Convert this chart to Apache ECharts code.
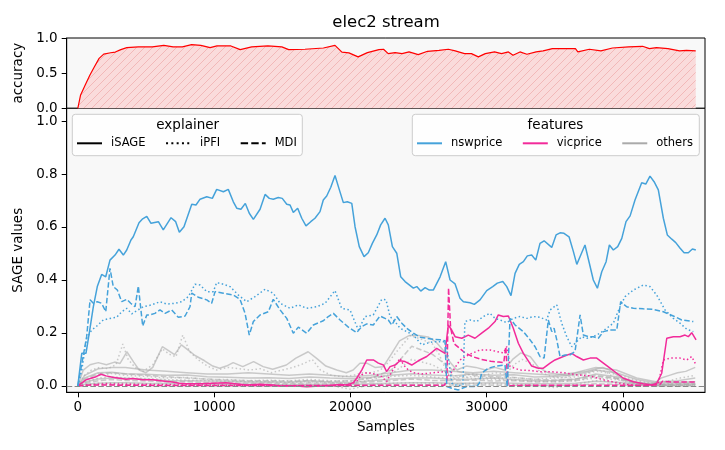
<!DOCTYPE html>
<html>
<head>
<meta charset="utf-8">
<script src="https://cdn.jsdelivr.net/npm/echarts@6/dist/echarts.min.js"></script>
<style>
  html, body { margin: 0; padding: 0; background: #fff; }
  #main { width: 725px; height: 450px; }
</style>
</head>
<body>
<div id="main"></div>
<script>
// accuracy of the stream model (top panel)
var accuracy = [[0,0],[205,0.19],[543,0.33],[880,0.47],[1218,0.59],[1563,0.71],[1900,0.77],[2407,0.79],[2751,0.80],[3155,0.835],[3595,0.863],[4446,0.873],[5466,0.873],[6310,0.896],[6992,0.873],[7667,0.873],[8350,0.906],[9024,0.896],[9707,0.863],[10213,0.887],[11233,0.887],[11915,0.835],[12759,0.873],[13947,0.887],[14967,0.873],[15473,0.835],[16662,0.84],[18020,0.858],[18871,0.896],[19377,0.80],[19891,0.788],[20566,0.731],[21248,0.792],[22092,0.835],[22429,0.84],[22774,0.778],[23280,0.792],[23787,0.778],[24300,0.802],[24975,0.764],[25657,0.811],[26501,0.825],[27183,0.84],[27690,0.816],[28372,0.778],[28878,0.778],[29385,0.731],[29898,0.778],[30573,0.802],[31087,0.778],[31593,0.802],[31930,0.755],[32437,0.802],[32950,0.769],[33625,0.802],[34139,0.816],[34814,0.849],[35665,0.849],[36509,0.849],[36685,0.802],[37529,0.84],[38380,0.816],[39224,0.858],[40412,0.873],[41432,0.882],[41938,0.849],[42452,0.863],[43296,0.849],[44147,0.816],[44653,0.825],[45335,0.816]];

// nswprice
var nswSage = [[0,0],[290,0.123],[600,0.123],[840,0.199],[1140,0.299],[1430,0.375],[1750,0.421],[2050,0.412],[2360,0.475],[2730,0.494],[3020,0.516],[3340,0.494],[3590,0.513],[3900,0.551],[4070,0.563],[4490,0.616],[4760,0.631],[5060,0.64],[5370,0.614],[5910,0.62],[6270,0.589],[6840,0.635],[7180,0.62],[7450,0.58],[7790,0.601],[8360,0.686],[8670,0.683],[8970,0.705],[9460,0.714],[9870,0.708],[10190,0.742],[10680,0.733],[11040,0.742],[11410,0.695],[11660,0.671],[11970,0.667],[12290,0.689],[12580,0.652],[12880,0.629],[13370,0.667],[13740,0.723],[14050,0.708],[14340,0.705],[14710,0.711],[15000,0.708],[15330,0.686],[15570,0.683],[15810,0.655],[16130,0.671],[16430,0.633],[16740,0.604],[17090,0.62],[17400,0.633],[17770,0.658],[18010,0.702],[18260,0.717],[18560,0.75],[18870,0.794],[19190,0.74],[19480,0.692],[19770,0.695],[20100,0.689],[20340,0.601],[20650,0.526],[21000,0.488],[21310,0.503],[21610,0.538],[21930,0.57],[22220,0.608],[22540,0.633],[22780,0.608],[23080,0.526],[23400,0.501],[23690,0.412],[24010,0.394],[24620,0.369],[24870,0.375],[25160,0.358],[25480,0.371],[25790,0.362],[26080,0.362],[26580,0.412],[26990,0.469],[27310,0.4],[27680,0.385],[28040,0.331],[28290,0.318],[28780,0.314],[29090,0.308],[29510,0.325],[30000,0.36],[30440,0.375],[30780,0.388],[31180,0.394],[31470,0.375],[31780,0.341],[32080,0.425],[32390,0.459],[32690,0.469],[32980,0.491],[33300,0.494],[33600,0.475],[33910,0.538],[34210,0.548],[34770,0.523],[35090,0.57],[35380,0.578],[35670,0.576],[36040,0.563],[36360,0.507],[36610,0.459],[36970,0.503],[37210,0.532],[37530,0.463],[37820,0.4],[38120,0.369],[38440,0.431],[38760,0.469],[39000,0.532],[39290,0.513],[39610,0.526],[39910,0.557],[40220,0.62],[40520,0.642],[40880,0.702],[41370,0.767],[41670,0.762],[41980,0.792],[42280,0.771],[42590,0.74],[42960,0.633],[43250,0.57],[43580,0.554],[43870,0.541],[44190,0.52],[44480,0.503],[44790,0.503],[45090,0.517],[45340,0.513]];
var nswPfi = [[0,0],[290,0.06],[650,0.18],[1020,0.211],[1390,0.226],[1870,0.249],[2360,0.255],[2850,0.259],[3220,0.28],[3590,0.293],[3960,0.272],[4320,0.284],[4810,0.299],[5420,0.306],[6030,0.318],[6520,0.309],[7130,0.312],[7620,0.318],[8110,0.337],[8600,0.384],[8970,0.381],[9460,0.356],[9940,0.356],[10190,0.39],[10680,0.384],[11170,0.375],[11780,0.343],[12390,0.318],[13000,0.337],[13740,0.365],[14340,0.35],[14840,0.312],[15570,0.293],[16180,0.306],[16790,0.293],[17530,0.299],[18140,0.312],[18870,0.36],[19360,0.293],[19970,0.287],[20580,0.211],[21070,0.262],[21680,0.268],[22300,0.327],[22610,0.325],[22910,0.262],[23270,0.243],[23640,0.218],[24130,0.205],[24620,0.192],[25230,0.155],[25600,0.161],[26080,0.167],[26940,0.167],[27200,0.1],[27450,0.01],[27900,0.0],[28250,0.005],[28400,0.243],[28780,0.249],[29270,0.243],[29750,0.262],[30240,0.274],[30610,0.255],[30980,0.249],[31470,0.239],[31950,0.255],[32440,0.262],[32940,0.255],[33420,0.262],[33910,0.259],[34400,0.249],[34650,0.287],[35140,0.306],[35500,0.237],[35870,0.186],[36240,0.148],[36600,0.167],[36970,0.186],[37340,0.18],[37820,0.186],[38310,0.199],[38810,0.218],[39290,0.237],[39780,0.299],[40150,0.337],[40760,0.362],[41490,0.381],[41980,0.375],[42470,0.343],[43080,0.287],[43690,0.255],[44180,0.237],[44680,0.214],[45160,0.205]];
var nswMdi = [[0,0],[650,0.186],[900,0.325],[1140,0.312],[1430,0.318],[1750,0.312],[2050,0.28],[2360,0.444],[2600,0.375],[2900,0.362],[3220,0.318],[3590,0.327],[3880,0.312],[4200,0.299],[4440,0.377],[4760,0.226],[5060,0.268],[5300,0.268],[5660,0.274],[6030,0.287],[6400,0.274],[6890,0.287],[7370,0.259],[7870,0.264],[8230,0.299],[8360,0.35],[8840,0.335],[9460,0.325],[9820,0.312],[10070,0.356],[10680,0.35],[11410,0.343],[11900,0.327],[12270,0.274],[12580,0.192],[12880,0.243],[13370,0.268],[13980,0.28],[14340,0.327],[14840,0.287],[15330,0.255],[15810,0.199],[16180,0.222],[16790,0.199],[17280,0.23],[18010,0.246],[18380,0.262],[18750,0.274],[19240,0.249],[19850,0.222],[20460,0.201],[20830,0.224],[21200,0.234],[21680,0.23],[22170,0.264],[22780,0.249],[23030,0.23],[23400,0.262],[23770,0.237],[24130,0.218],[24620,0.199],[25110,0.184],[25600,0.18],[26080,0.176],[26580,0.174],[26940,0.171],[27070,-0.002],[27430,-0.009],[27920,-0.015],[28530,-0.002],[29270,-0.002],[29450,0.01],[29630,0.048],[30120,0.067],[30680,0.075],[31340,0.079],[31510,-0.003],[31710,0.255],[32080,0.23],[32690,0.205],[33180,0.174],[33550,0.148],[33910,0.111],[34210,0.105],[34520,0.249],[34770,0.205],[34940,0.218],[35140,0.174],[35380,0.111],[35750,0.117],[36110,0.117],[36480,0.13],[36850,0.268],[37090,0.192],[37460,0.186],[37820,0.186],[38190,0.18],[38560,0.205],[39050,0.211],[39540,0.211],[39830,0.318],[40270,0.299],[40760,0.293],[41490,0.291],[42230,0.289],[42960,0.28],[43690,0.264],[44310,0.249],[45160,0.243]];

// vicprice
var vicSage = [[0,0],[600,0.023],[970,0.029],[1340,0.035],[1700,0.044],[2070,0.038],[2560,0.033],[3050,0.029],[3540,0.025],[4030,0.028],[4760,0.023],[5500,0.023],[6230,0.019],[6960,0.015],[7450,0.01],[7940,0.008],[8920,0.008],[9900,0.01],[10870,0.012],[12390,0.004],[13370,0.006],[14340,0.004],[14840,0],[15810,0.001],[16790,-0.003],[17770,0],[18260,0.001],[19240,0.005],[19730,0.004],[20210,0.012],[20460,0.029],[20830,0.06],[21200,0.098],[21680,0.098],[22050,0.086],[22420,0.079],[22660,0.054],[22910,0.073],[23270,0.079],[23640,0.095],[24010,0.092],[24500,0.079],[24980,0.095],[25600,0.111],[26330,0.142],[26940,0.123],[27180,0.23],[27430,0.211],[27680,0.186],[28170,0.18],[28650,0.192],[29140,0.18],[29630,0.199],[30120,0.218],[30610,0.243],[30850,0.268],[31220,0.262],[31590,0.264],[31950,0.218],[32320,0.161],[32690,0.123],[33300,0.075],[33790,0.067],[34160,0.067],[34650,0.086],[35010,0.098],[35620,0.111],[36240,0.123],[36600,0.111],[37090,0.098],[37580,0.105],[38070,0.105],[38560,0.086],[39050,0.067],[39540,0.048],[40030,0.029],[40760,0.016],[41490,0.008],[42110,0.004],[42470,0.01],[42840,0.048],[43210,0.18],[43690,0.186],[44180,0.186],[44550,0.192],[44790,0.186],[45040,0.201],[45360,0.174]];
var vicPfi = [[0,0],[1000,0.005],[2000,0.008],[4000,0.006],[7000,0.004],[10000,0.003],[13000,0.002],[16000,0.001],[19000,0.002],[20000,0.004],[20500,0.02],[20830,0.042],[21200,0.05],[21800,0.045],[22300,0.035],[22660,0.016],[22900,0.042],[23280,0.073],[23640,0.105],[23890,0.08],[24250,0.06],[24620,0.05],[25230,0.045],[26080,0.05],[26940,0.054],[27200,0.04],[27560,0.06],[28040,0.098],[28650,0.117],[29510,0.136],[30240,0.136],[30730,0.13],[31220,0.125],[31470,0.148],[31710,0.073],[32440,0.06],[33180,0.058],[33910,0.054],[34650,0.054],[35620,0.05],[36610,0.042],[37580,0.038],[38560,0.023],[39540,0.012],[40520,0.004],[41490,0.0],[42230,0.002],[42600,0.01],[42960,0.098],[43450,0.105],[44180,0.105],[44670,0.098],[45040,0.111],[45360,0.079]];
var vicMdi = [[0,0],[1000,0.004],[3000,0.003],[6000,0.002],[10000,0.002],[15000,0.001],[20000,0.002],[24000,0.003],[26900,0.003],[27080,0.02],[27200,0.37],[27350,0.22],[27600,0.16],[28400,0.125],[29000,0.11],[29600,0.1],[30300,0.093],[30900,0.09],[31250,0.088],[31400,0.148],[31560,0.0],[32000,0.002],[35000,0.003],[38000,0.003],[42000,0.002],[42700,0.005],[42900,0.018],[43500,0.015],[44500,0.015],[45300,0.015]];

// other features (grey)
var otherA = [[0,0],[400,0.06],[900,0.08],[1500,0.088],[2100,0.08],[2700,0.09],[3100,0.085],[3600,0.129],[4100,0.09],[4500,0.06],[5000,0.05],[5500,0.07],[6200,0.148],[6600,0.135],[7100,0.118],[7600,0.155],[8100,0.135],[8600,0.115],[9300,0.095],[9900,0.075],[10400,0.067],[10900,0.075],[11400,0.088],[12100,0.073],[12900,0.092],[13600,0.073],[14300,0.063],[15300,0.079],[16000,0.105],[16900,0.129],[17500,0.105],[18200,0.075],[19000,0.06],[19700,0.05],[20200,0.06],[20700,0.086],[21200,0.086],[21800,0.07],[22400,0.072],[23000,0.12],[23600,0.17],[24300,0.19],[25000,0.19],[25700,0.185],[26300,0.165],[26800,0.135],[27300,0.09],[27800,0.06],[28500,0.075],[29200,0.07],[29900,0.06],[30600,0.07],[31300,0.06],[31900,0.1],[32500,0.125],[33200,0.11],[33800,0.07],[34500,0.05],[35200,0.045],[35900,0.04],[36600,0.05],[37300,0.055],[38000,0.065],[38500,0.07],[39000,0.06],[39600,0.04],[40300,0.02],[41000,0.01],[41700,0.005],[42300,0.01],[42800,0.03],[43400,0.04],[44000,0.05],[44600,0.055],[45300,0.07]];
var otherAPfi = [[0,0],[500,0.04],[1000,0.06],[1600,0.07],[2200,0.065],[2800,0.08],[3300,0.158],[3700,0.1],[4200,0.07],[4800,0.055],[5500,0.08],[6200,0.14],[6700,0.12],[7200,0.11],[7700,0.192],[8200,0.13],[8800,0.1],[9500,0.075],[10200,0.06],[11000,0.07],[11800,0.065],[12600,0.06],[13400,0.065],[14200,0.05],[15000,0.06],[15800,0.07],[16600,0.085],[17200,0.1],[17800,0.06],[18600,0.04],[19400,0.035],[20200,0.04],[20900,0.05],[21600,0.05],[22200,0.06],[22800,0.09],[23400,0.13],[23900,0.16],[24400,0.19],[25000,0.18],[25500,0.17],[26000,0.16],[26500,0.12],[27000,0.06],[27600,0.03],[28300,0.04],[29000,0.045],[29800,0.04],[30600,0.05],[31400,0.045],[32000,0.08],[32600,0.1],[33300,0.085],[34000,0.05],[34800,0.035],[35600,0.03],[36400,0.04],[37200,0.045],[38000,0.06],[38700,0.055],[39400,0.03],[40200,0.015],[41000,0.008],[41800,0.005],[42600,0.01],[43400,0.02],[44200,0.03],[45300,0.04]];

var greyX = [0,500,1500,2500,3500,5000,6500,8000,9500,11000,12500,14000,15500,17000,18500,20000,21500,23000,24500,26000,27500,29000,30500,32000,33500,35000,36500,38000,39500,41000,42500,44000,45300];
var otherB = [0,0.04,0.065,0.07,0.07,0.06,0.055,0.05,0.045,0.045,0.05,0.045,0.04,0.045,0.04,0.035,0.04,0.05,0.06,0.06,0.055,0.05,0.055,0.05,0.045,0.04,0.05,0.07,0.06,0.03,0.015,0.02,0.03];
var otherC = [0,0.03,0.05,0.052,0.046,0.044,0.04,0.041,0.035,0.033,0.03,0.031,0.028,0.034,0.03,0.027,0.033,0.04,0.046,0.041,0.038,0.045,0.04,0.042,0.034,0.036,0.042,0.06,0.05,0.024,0.01,0.014,0.016];
var otherCPfi = [0,0.02,0.04,0.047,0.04,0.036,0.03,0.032,0.025,0.024,0.02,0.022,0.019,0.025,0.02,0.018,0.03,0.036,0.04,0.034,0.028,0.036,0.03,0.031,0.025,0.03,0.034,0.056,0.044,0.02,0.006,0.01,0.012];
var otherD = [0,0.015,0.026,0.03,0.029,0.025,0.021,0.02,0.019,0.018,0.015,0.016,0.014,0.02,0.015,0.013,0.02,0.026,0.03,0.03,0.025,0.026,0.03,0.024,0.02,0.021,0.025,0.045,0.035,0.015,0.005,0.008,0.009];
var otherDMdi = [0,0.01,0.02,0.024,0.021,0.019,0.015,0.016,0.012,0.011,0.01,0.011,0.009,0.012,0.01,0.008,0.015,0.02,0.026,0.021,0.02,0.022,0.019,0.02,0.015,0.016,0.02,0.036,0.028,0.01,0.004,0.006,0.007];
var otherEPfi = [0,0.005,0.01,0.012,0.01,0.008,0.008,0.006,0.005,0.005,0.004,0.004,0.003,0.004,0.002,-0.012,0.005,0.01,0.012,0.01,0.008,0.01,0.008,0.006,0.004,-0.006,0.006,0.02,0.015,0.005,0.002,0.003,0.003];
var otherAMdi = [0,0.025,0.045,0.05,0.045,0.04,0.035,0.03,0.026,0.022,0.02,0.02,0.018,0.02,0.017,0.02,0.03,0.06,0.15,0.12,0.06,0.04,0.035,0.032,0.025,0.022,0.026,0.04,0.03,0.012,0.004,0.005,0.006];
var otherE = [0,0.006,0.01,0.012,0.012,0.01,0.009,0.008,0.007,0.006,0.006,0.005,0.005,0.006,0.005,0.005,0.008,0.01,0.012,0.012,0.01,0.01,0.012,0.01,0.008,0.008,0.01,0.018,0.014,0.006,0.002,0.003,0.004];
var otherBPfi = [0,0.012,0.03,0.035,0.03,0.028,0.024,0.022,0.02,0.017,0.016,0.015,0.013,0.015,0.012,0.01,0.022,0.045,0.1,0.08,0.04,0.028,0.025,0.022,0.018,0.016,0.02,0.03,0.024,0.008,0.003,0.004,0.005];
var otherEMdi = [0,0.002,0.004,0.005,0.004,0.003,0.003,0.003,0.002,0.002,0.002,0.002,0.001,0.002,0.001,0.001,0.003,0.004,0.005,0.004,0.004,0.004,0.003,0.003,0.002,0.002,0.003,0.008,0.006,0.002,0.001,0.001,0.001];

var sageTicks = [0, 0.2, 0.4, 0.6, 0.8, 1.0];
var accTicks = [0, 0.5, 1.0];
var sampleTicks = [0, 10000, 20000, 30000, 40000];

var FONT = 'DejaVu Sans';
var BLUE = '#45a2da', PINK = '#f22a9a', GREY = '#aaaaaa';
var SOLID = 'solid', DOT = [1.5, 2.5], DASH = [5.5, 2.4];

function zip(xs, ys) {
    return xs.map(function (x, i) { return [x, ys[i]]; });
}

function sageLine(name, data, color, type, opacity) {
    return {
        name: name, type: 'line', xAxisIndex: 1, yAxisIndex: 1,
        data: data, symbol: 'none', silent: true,
        lineStyle: { color: color, width: 1.5, type: type, opacity: opacity || 1 },
        itemStyle: { color: color }
    };
}

function legendLine(name, color, type) {
    return {
        name: name, type: 'line', xAxisIndex: 1, yAxisIndex: 1, data: [], symbol: 'none',
        lineStyle: { color: color, width: 2, type: type === DOT ? [2, 3.3] : (type === DASH ? [7.4, 3.2] : type) },
        itemStyle: { color: color }
    };
}

// diagonal hatch for the accuracy fill
function hatch() {
    var c = document.createElement('canvas');
    c.width = 8; c.height = 8;
    var g = c.getContext('2d');
    g.fillStyle = 'rgb(250,219,219)';
    g.fillRect(0, 0, 8, 8);
    g.strokeStyle = 'rgb(242,184,184)';
    g.lineWidth = 1;
    g.beginPath();
    g.moveTo(-1, 9); g.lineTo(9, -1);
    g.moveTo(-5, 5); g.lineTo(5, -5);
    g.moveTo(3, 13); g.lineTo(13, 3);
    g.stroke();
    return c;
}

var nameStyle = { color: '#000', fontSize: 13.5, fontFamily: FONT };

var series = [
    sageLine('others', zip(greyX, otherEMdi), GREY, DASH, 0.6),
    sageLine('others', zip(greyX, otherE), GREY, SOLID, 0.6),
    sageLine('others', zip(greyX, otherEPfi), GREY, DOT, 0.6),
    sageLine('others', zip(greyX, otherD), GREY, SOLID, 0.6),
    sageLine('others', zip(greyX, otherDMdi), GREY, DASH, 0.6),
    sageLine('others', zip(greyX, otherC), GREY, SOLID, 0.6),
    sageLine('others', zip(greyX, otherCPfi), GREY, DOT, 0.6),
    sageLine('others', zip(greyX, otherB), GREY, SOLID, 0.6),
    sageLine('others', zip(greyX, otherBPfi), GREY, DOT, 0.6),
    sageLine('others', zip(greyX, otherAMdi), GREY, DASH, 0.6),
    sageLine('others', otherAPfi, GREY, DOT, 0.6),
    sageLine('others', otherA, GREY, SOLID, 0.6),
    sageLine('vicprice', vicMdi, PINK, DASH),
    sageLine('vicprice', vicPfi, PINK, DOT),
    sageLine('vicprice', vicSage, PINK, SOLID),
    sageLine('nswprice', nswMdi, BLUE, DASH),
    sageLine('nswprice', nswPfi, BLUE, DOT),
    sageLine('nswprice', nswSage, BLUE, SOLID),
    {
        name: 'accuracy', type: 'line', xAxisIndex: 0, yAxisIndex: 0,
        data: accuracy, symbol: 'none', silent: true,
        lineStyle: { color: '#ff0000', width: 1.2 },
        areaStyle: { color: { image: hatch(), repeat: 'repeat' }, opacity: 1 }
    },
    {
        name: 'zero', type: 'line', xAxisIndex: 1, yAxisIndex: 1, data: [], symbol: 'none',
        markLine: {
            silent: true, symbol: 'none', label: { show: false },
            lineStyle: { color: '#888888', type: DASH, width: 1.2 },
            data: [{ yAxis: 0 }]
        }
    },
    legendLine('iSAGE', '#000', SOLID),
    legendLine('iPFI', '#000', DOT),
    legendLine('MDI', '#000', DASH),
    legendLine('nswprice', BLUE, SOLID),
    legendLine('vicprice', PINK, SOLID),
    legendLine('others', GREY, SOLID)
];
// names on data lines only matter for legend matching; keep them apart
series.forEach(function (s, i) { if (i < 18) s.name = s.name + ' ' + i; });

var legendText = { color: '#000', fontSize: 11.5, fontFamily: FONT, padding: [0, 0, 0, 4] };

var myChart = echarts.init(document.getElementById('main'), null, { renderer: 'canvas' });
var option = {
    animation: false,
    backgroundColor: '#ffffff',
    title: [
        { text: 'elec2 stream', left: 386, top: 14, textAlign: 'center', padding: 0,
          textStyle: { fontSize: 16.5, fontWeight: 'normal', fontFamily: FONT, color: '#000' } },
        { text: 'explainer', left: 187.7, top: 118, textAlign: 'center', padding: 0, z: 8,
          textStyle: { fontSize: 13.5, fontWeight: 'normal', fontFamily: FONT, color: '#000' } },
        { text: 'features', left: 555.5, top: 118, textAlign: 'center', padding: 0, z: 8,
          textStyle: { fontSize: 13.5, fontWeight: 'normal', fontFamily: FONT, color: '#000' } }
    ],
    graphic: [
        { type: 'rect', z: 6, shape: { x: 72.3, y: 114.3, width: 230, height: 41.4, r: 3 },
          style: { fill: 'rgba(255,255,255,0.8)', stroke: '#cccccc', lineWidth: 1 } },
        { type: 'rect', z: 6, shape: { x: 412.3, y: 114.3, width: 287, height: 41.4, r: 3 },
          style: { fill: 'rgba(255,255,255,0.8)', stroke: '#cccccc', lineWidth: 1 } }
    ],
    legend: [
        { data: ['iSAGE', 'iPFI', 'MDI'], left: 76, top: 137.3, padding: 0, z: 8,
          itemWidth: 25, itemHeight: 12, itemGap: 19.5, selectedMode: false,
          itemStyle: { opacity: 0 }, textStyle: legendText },
        { data: ['nswprice', 'vicprice', 'others'], left: 416, top: 137.3, padding: 0, z: 8,
          itemWidth: 25, itemHeight: 12, itemGap: 19.5, selectedMode: false,
          itemStyle: { opacity: 0 }, textStyle: legendText }
    ],
    grid: [
        { left: 66.7, top: 38, width: 638.3, height: 70.3, show: true,
          backgroundColor: '#f8f8f8', borderColor: '#000', borderWidth: 1 },
        { left: 66.7, top: 108.3, width: 638.3, height: 284, show: true,
          backgroundColor: '#f8f8f8', borderColor: '#000', borderWidth: 1 }
    ],
    xAxis: [
        { type: 'value', gridIndex: 0, min: -815, max: 46015,
          axisLine: { show: false }, axisTick: { show: false }, axisLabel: { show: false },
          splitLine: { show: false } },
        { type: 'value', gridIndex: 1, min: -815, max: 46015,
          name: 'Samples', nameLocation: 'middle', nameGap: 28.5, nameTextStyle: nameStyle,
          axisLine: { show: true, onZero: false, lineStyle: { color: '#000' } },
          axisTick: { show: true, length: 5, customValues: sampleTicks, lineStyle: { color: '#000' } },
          axisLabel: { customValues: sampleTicks, margin: 8, color: '#000', fontSize: 13.5, fontFamily: FONT,
                       formatter: function (v) { return String(v); } },
          splitLine: { show: false } }
    ],
    yAxis: [
        { type: 'value', gridIndex: 0, min: 0, max: 1,
          name: 'accuracy', nameLocation: 'middle', nameGap: 31, nameTextStyle: nameStyle,
          axisLine: { show: true, onZero: false, lineStyle: { color: '#000' } },
          axisTick: { show: true, length: 5, customValues: accTicks, lineStyle: { color: '#000' } },
          axisLabel: { customValues: accTicks, margin: 9, color: '#000', fontSize: 13.5, fontFamily: FONT,
                       formatter: function (v) { return v.toFixed(1); } },
          splitLine: { show: false } },
        { type: 'value', gridIndex: 1, min: -0.024, max: 1.048,
          name: 'SAGE values', nameLocation: 'middle', nameGap: 31, nameTextStyle: nameStyle,
          axisLine: { show: true, onZero: false, lineStyle: { color: '#000' } },
          axisTick: { show: true, length: 5, customValues: sageTicks, lineStyle: { color: '#000' } },
          axisLabel: { customValues: sageTicks, margin: 9, color: '#000', fontSize: 13.5, fontFamily: FONT,
                       formatter: function (v) { return v.toFixed(1); } },
          splitLine: { show: false } }
    ],
    series: series
};
myChart.setOption(option);
</script>
</body>
</html>
